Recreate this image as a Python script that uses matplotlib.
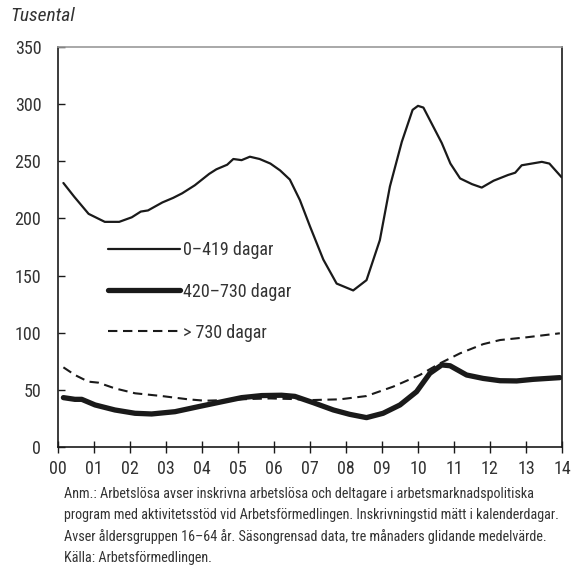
import matplotlib
matplotlib.use("Agg")
import matplotlib.pyplot as plt
from matplotlib import font_manager

names = {f.name for f in font_manager.fontManager.ttflist}
cands = ['Roboto Condensed', 'Liberation Sans Narrow', 'Open Sans Condensed', 'Noto Sans Condensed',
         'DejaVu Sans Condensed', 'Liberation Sans']
main = next((n for n in cands if n in names), 'DejaVu Sans')
plt.rcParams['font.family'] = [main, 'DejaVu Sans']
condensed = main != 'Liberation Sans'

# Data (x in years since 2000)
t1 = [0.15, 0.45, 0.85, 1.3, 1.7, 2.05, 2.3, 2.5, 2.9, 3.2, 3.45, 3.8, 4.2, 4.4, 4.7, 4.87,
      5.1, 5.33, 5.6, 5.9, 6.17, 6.44, 6.72, 7.0, 7.37, 7.74, 8.2, 8.57, 8.94, 9.22, 9.55,
      9.85, 10.0, 10.15, 10.38, 10.66, 10.9, 11.17, 11.5, 11.77, 12.1, 12.5, 12.7, 12.88,
      13.44, 13.65, 13.99]
v1 = [231, 219, 204, 197, 197, 201, 206, 207, 214, 218, 222, 229, 239, 243, 247, 252,
      251, 254, 252, 248, 242, 234, 216, 193, 164, 143, 137, 146, 181, 228, 267,
      295, 298.5, 297, 283, 266, 248, 235, 230, 227, 233, 238, 240, 246.5,
      249.5, 248, 236]

t2 = [0.15, 0.47, 0.66, 1.03, 1.58, 2.14, 2.6, 3.25, 3.9, 4.55, 5.1, 5.66, 6.21, 6.58,
      7.09, 7.65, 8.1, 8.57, 9.03, 9.5, 9.96, 10.33, 10.66, 10.89, 11.35, 11.81, 12.28,
      12.74, 13.2, 13.94]
v2 = [43.2, 41.7, 41.7, 36.8, 32.4, 29.5, 28.9, 30.9, 35.3, 39.6, 43.2, 45.0, 45.3, 44.3,
      38.8, 32.4, 28.6, 25.7, 29.5, 36.8, 48.4, 64.5, 71.8, 71.1, 63.0, 60.0, 58.0,
      57.8, 59.2, 60.7]

t3 = [0.15, 0.47, 0.84, 1.12, 1.58, 2.14, 2.88, 3.62, 4.08, 4.73, 5.3, 5.9, 6.5, 7.09,
      7.83, 8.57, 9.31, 10.05, 10.61, 11.17, 11.81, 12.28, 13.02, 13.94]
v3 = [69.7, 63.0, 57.2, 56.3, 51.3, 47.0, 44.6, 41.7, 40.5, 41.1, 42.0, 42.5, 42.0, 41.1,
      41.7, 44.6, 52.8, 63.0, 73.2, 82.0, 90.0, 93.6, 96.0, 99.5]

labels = ['0\u2013419 dagar', '420\u2013730 dagar', '> 730 dagar']
xticklabels = ['00', '01', '02', '03', '04', '05', '06', '07', '08', '09', '10', '11', '12', '13', '14']
yticks = [0, 50, 100, 150, 200, 250, 300, 350]

fig = plt.figure(figsize=(5.71, 5.71), dpi=100)
ax = fig.add_axes([58/571, 1-447/571, 504/571, 400/571])

c = '#1a1a1a'
tc = '#333333'
fs = 13 if condensed else 11.5
ax.plot(t1, v1, color=c, lw=1.6, label=labels[0], solid_capstyle='round')
ax.plot(t2, v2, color=c, lw=3.8, label=labels[1], solid_capstyle='round')
ax.plot(t3, v3, color=c, lw=1.5, ls=(0, (4.5, 2.7)), label=labels[2])

ax.set_xlim(0, 14)
ax.set_ylim(0, 350)
ax.set_xticks(range(15))
ax.set_xticklabels(xticklabels)
ax.set_yticks(yticks)
ax.tick_params(axis='x', direction='inout', length=8, width=1, colors=c, labelcolor=tc, labelsize=fs, pad=5)
ax.tick_params(axis='y', direction='in', length=5, width=1, colors=c, labelcolor=tc, labelsize=fs, pad=12)
for s in ['left', 'bottom', 'right']:
    ax.spines[s].set_color(c)
    ax.spines[s].set_linewidth(1.2)
ax.spines['top'].set_color('#999999')
ax.spines['top'].set_linewidth(1.2)

leg = ax.legend(loc='upper left', bbox_to_anchor=(0.084, 0.532), frameon=False,
                handlelength=4.0 if condensed else 4.6, handletextpad=0.2,
                labelspacing=1.28, fontsize=fs, borderaxespad=0)
for txt in leg.get_texts():
    txt.set_color(tc)

fig.text(10/571, 1-16/571, 'Tusental', fontsize=fs + 1, style='italic', color=tc, va='center', ha='left')

notes = ['Anm.: Arbetslösa avser inskrivna arbetslösa och deltagare i arbetsmarknadspolitiska',
         'program med aktivitetsstöd vid Arbetsförmedlingen. Inskrivningstid mätt i kalenderdagar.',
         'Avser åldersgruppen 16\u201364 år. Säsongrensad data, tre månaders glidande medelvärde.',
         'Källa: Arbetsförmedlingen.']
texts = []
for i, line in enumerate(notes):
    texts.append(fig.text(64/571, 1-(494 + 21.3*i)/571, line, fontsize=11.5, color=tc,
                          va='center', ha='left'))
# fit the widest note line to the reference width (~498 px)
fig.canvas.draw()
r = fig.canvas.get_renderer()
w = texts[1].get_window_extent(r).width
size = 11.5 * 498 / w
for tx in texts:
    tx.set_fontsize(size)

fig.savefig('out.png', dpi=100)
